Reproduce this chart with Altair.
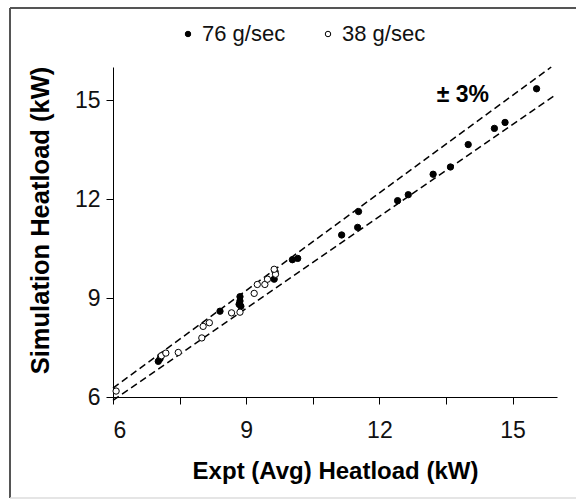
import altair as alt
import pandas as pd

# ---- data ----
x76 = [7.02, 7.06, 8.41, 8.86, 8.86, 8.84, 8.88, 9.63, 9.65, 10.04, 10.16,
       11.15, 11.51, 11.53, 12.41, 12.65, 13.21, 13.60, 14.00, 14.59, 14.83, 15.54]
y76 = [7.08, 7.16, 8.60, 9.04, 8.91, 8.81, 8.75, 9.57, 9.80, 10.16, 10.20,
       10.91, 11.14, 11.62, 11.95, 12.13, 12.75, 12.97, 13.65, 14.14, 14.32, 15.34]
x38 = [6.07, 7.09, 7.19, 7.47, 8.00, 8.03, 8.17, 8.67, 8.86, 9.18, 9.25, 9.42,
       9.48, 9.66, 9.63]
y38 = [6.18, 7.25, 7.33, 7.35, 7.79, 8.14, 8.25, 8.55, 8.57, 9.14, 9.41, 9.41,
       9.57, 9.72, 9.87]
series = ["76 g/sec", "38 g/sec"]

upper_x = [6.0, 15.87]
upper_y = [6.27, 16.0]
lower_x = [6.0, 15.93]
lower_y = [5.90, 15.12]

x_ticks = [6, 7.5, 9, 10.5, 12, 13.5, 15]
y_ticks = [6, 9, 12, 15]

FONT = "Liberation Sans"

pts = pd.DataFrame(
    {"x": x76 + x38, "y": y76 + y38,
     "s": [series[0]] * len(x76) + [series[1]] * len(x38)}
)
bands = pd.DataFrame(
    {"x": upper_x + lower_x, "y": upper_y + lower_y,
     "b": ["upper"] * 2 + ["lower"] * 2}
)
note = pd.DataFrame({"x": [13.88], "y": [15.14], "t": ["\u00b1 3%"]})

xs = alt.Scale(domain=[6, 16], nice=False, zero=False)
ys = alt.Scale(domain=[6, 16], nice=False, zero=False)

x_axis = alt.Axis(
    values=x_ticks, labelExpr="datum.value % 3 === 0 ? datum.label : ''",
    grid=False, tickSize=7, labelFontSize=23, labelPadding=15, labelFont=FONT,
    labelColor="#111", domainColor="black", tickColor="black",
    title="Expt (Avg) Heatload (kW)", titleFont=FONT, titleFontSize=24,
    titleFontWeight="bold", titleX=222, titleY=74, titleBaseline="middle",
    titleAlign="center", titleColor="black",
)
y_axis = alt.Axis(
    values=y_ticks, grid=False, tickSize=7, labelFontSize=23, labelPadding=6,
    labelFont=FONT, labelColor="#111", domainColor="black", tickColor="black",
    title="Simulation Heatload (kW)", titleFont=FONT, titleFontSize=25.5,
    titleFontWeight="bold", titleX=-73, titleY=153, titleBaseline="middle",
    titleAlign="center", titleAngle=270, titleColor="black",
)

lines = alt.Chart(bands).mark_line(
    color="black", strokeDash=[7, 4], strokeWidth=1.5
).encode(
    x=alt.X("x:Q", scale=xs, axis=x_axis),
    y=alt.Y("y:Q", scale=ys, axis=y_axis),
    detail="b:N",
)

points = alt.Chart(pts).mark_point(
    shape="circle", filled=True, stroke="black", strokeWidth=1, opacity=1
).encode(
    x=alt.X("x:Q", scale=xs),
    y=alt.Y("y:Q", scale=ys),
    fill=alt.Fill(
        "s:N",
        scale=alt.Scale(domain=series, range=["black", "white"]),
        legend=alt.Legend(
            orient="none", legendX=64, legendY=-44, direction="horizontal",
            title=None, labelFontSize=22, labelFont=FONT, labelColor="#111",
            symbolSize=30, symbolStrokeColor="black", symbolStrokeWidth=1,
            labelOffset=3, columnPadding=31,
        ),
    ),
    size=alt.value(40),
)

label = alt.Chart(note).mark_text(
    font=FONT, fontSize=23, fontWeight="bold", color="black"
).encode(x=alt.X("x:Q", scale=xs), y=alt.Y("y:Q", scale=ys), text="t:N")

frame_left = alt.Chart(note).mark_rule(color="#555", strokeWidth=2).encode(
    x=alt.value(-103), y=alt.value(-59), y2=alt.value(431))
frame_top = alt.Chart(note).mark_rule(color="#555", strokeWidth=2).encode(
    x=alt.value(-103), x2=alt.value(470), y=alt.value(-59))
frame_bottom = alt.Chart(note).mark_rule(color="#ddd", strokeWidth=1.5).encode(
    x=alt.value(-103), x2=alt.value(470), y=alt.value(431))

chart = alt.layer(
    frame_left, frame_top, frame_bottom, lines, points, label
).properties(
    width=444, height=330,
    autosize=alt.AutoSizeParams(type="none"),
    padding={"left": 113, "top": 67, "right": 19, "bottom": 105},
    background="white",
).configure_view(stroke=None)

chart.save("out.html", embed_options={"renderer": "svg", "actions": False})
